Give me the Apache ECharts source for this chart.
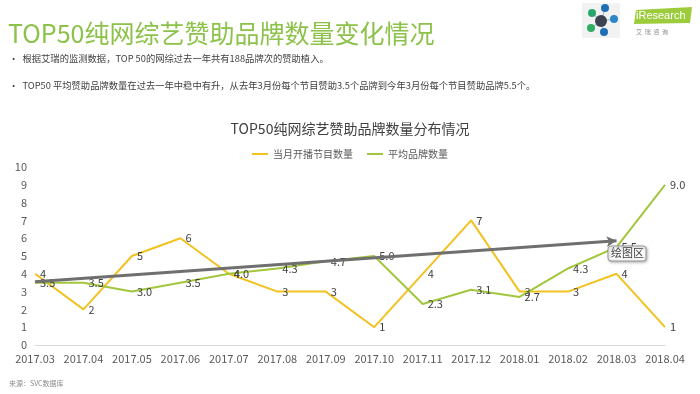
<!DOCTYPE html>
<html><head><meta charset="utf-8">
<script src="https://cdn.jsdelivr.net/npm/echarts@6/dist/echarts.min.js"></script>
<style>html,body{margin:0;padding:0;background:#fff;}#c{width:700px;height:394px;}</style>
</head><body><div id="c"></div>
<script>
const categories = ['2017.03','2017.04','2017.05','2017.06','2017.07','2017.08','2017.09','2017.10','2017.11','2017.12','2018.01','2018.02','2018.03','2018.04'];
const showsPerMonth = [4,2,5,6,4,3,3,1,4,7,3,3,4,1];
const avgBrands = [3.5,3.5,3.0,3.5,4.0,4.3,4.7,5.0,2.3,3.1,2.7,4.3,5.5,9.0];
const yTicks = [0,1,2,3,4,5,6,7,8,9,10];
const trendStart = [0, 3.55];
const trendEnd = [12, 5.85];
const seriesNames = ['当月开播节目数量','平均品牌数量'];

const chart = echarts.init(document.getElementById('c'));
const font = '"Noto Sans CJK SC","Microsoft YaHei",sans-serif';
chart.setOption({
  backgroundColor:'#fff',
  animation:false,
  textStyle:{fontFamily:font},
  title:{
    text:'TOP50纯网综艺赞助品牌数量分布情况',
    left:'center', top:117,
    textStyle:{fontSize:14, fontWeight:'normal', color:'#404040', fontFamily:font}
  },
  legend:{
    top:144, left:'center',
    itemWidth:16, itemHeight:2, itemGap:14,
    icon:'rect',
    textStyle:{fontSize:10, color:'#595959'},
    data:seriesNames
  },
  grid:{left:35, right:35, top:167, bottom:49},
  xAxis:{
    type:'category', boundaryGap:false, data:categories,
    axisLine:{lineStyle:{color:'#d9d9d9'}},
    axisTick:{show:false},
    axisLabel:{color:'#595959', fontSize:11, margin:8, interval:0}
  },
  yAxis:{
    type:'value', min:0, max:10, interval:1,
    axisLine:{show:false}, axisTick:{show:false}, splitLine:{show:false},
    axisLabel:{color:'#595959', fontSize:11, margin:8,
      formatter:v=> yTicks.includes(v)? String(v):''}
  },
  series:[
    {name:seriesNames[0], type:'line', data:showsPerMonth,
     symbol:'circle', symbolSize:0.01, showSymbol:true,
     lineStyle:{color:'#f2c221', width:2}, itemStyle:{color:'#f2c221'},
     label:{show:true, position:'right', color:'#404040', fontSize:11, distance:5}},
    {name:seriesNames[1], type:'line', data:avgBrands,
     symbol:'circle', symbolSize:0.01, showSymbol:true,
     lineStyle:{color:'#a2c63d', width:2}, itemStyle:{color:'#a2c63d'},
     label:{show:true, position:'right', color:'#404040', fontSize:11, distance:5,
       formatter:p=>Number(p.value).toFixed(1)},
     markLine:{silent:true, symbol:['none','arrow'], symbolSize:[8,10],
       label:{show:false},
       lineStyle:{color:'#6f6f6f', width:3, type:'solid'},
       data:[[{coord:trendStart},{coord:trendEnd}]]}
    }
  ],
  graphic:[
    {type:'text', left:8, top:21, style:{text:'TOP50纯网综艺赞助品牌数量变化情况', fill:'#8cc24a', fontSize:25, fontFamily:font}},
    {type:'text', left:9, top:54, style:{text:'•  根据艾瑞的监测数据，TOP 50的网综过去一年共有188品牌次的赞助植入。', fill:'#404040', fontSize:9.3, fontFamily:font}},
    {type:'text', left:9, top:81, style:{text:'•  TOP50 平均赞助品牌数量在过去一年中稳中有升，从去年3月份每个节目赞助3.5个品牌到今年3月份每个节目赞助品牌5.5个。', fill:'#404040', fontSize:9.3, fontFamily:font}},
    {type:'text', left:9, top:380, style:{text:'来源：SVC数据库', fill:'#8c8c8c', fontSize:7, fontFamily:font}},
    {type:'rect', shape:{x:608, y:246, width:38, height:15, r:3}, z:100,
     style:{fill:'#fafafa', stroke:'#9a9a9a', lineWidth:1, shadowBlur:3, shadowColor:'rgba(0,0,0,0.3)', shadowOffsetX:1, shadowOffsetY:1}},
    {type:'text', x:611, y:247, z:101, style:{text:'绘图区', fill:'#404040', fontSize:11, fontFamily:font}},
    {type:'rect', shape:{x:582, y:3, width:38, height:35}, style:{fill:'#f2f2f2'}},
    {type:'line', shape:{x1:592,y1:13,x2:601,y2:21}, style:{stroke:'#9fb3c3',lineWidth:1}},
    {type:'line', shape:{x1:605,y1:9,x2:601,y2:21}, style:{stroke:'#9fb3c3',lineWidth:1}},
    {type:'line', shape:{x1:614,y1:19,x2:601,y2:21}, style:{stroke:'#9fb3c3',lineWidth:1}},
    {type:'line', shape:{x1:591,y1:28,x2:601,y2:21}, style:{stroke:'#9fb3c3',lineWidth:1}},
    {type:'line', shape:{x1:604,y1:32,x2:601,y2:21}, style:{stroke:'#9fb3c3',lineWidth:1}},
    {type:'circle', shape:{cx:601, cy:21, r:6}, style:{fill:'#3b4250'}},
    {type:'circle', shape:{cx:592, cy:13, r:4}, style:{fill:'#27a96b'}},
    {type:'circle', shape:{cx:605, cy:8, r:4}, style:{fill:'#1f6fb5'}},
    {type:'circle', shape:{cx:614, cy:19, r:4}, style:{fill:'#2c86c7'}},
    {type:'circle', shape:{cx:591, cy:28, r:4}, style:{fill:'#2fae62'}},
    {type:'circle', shape:{cx:604, cy:32, r:4}, style:{fill:'#1f6fb5'}},
    {type:'polygon', shape:{points:[[636,10],[692,7],[690,23],[634,24]]}, style:{fill:'#9ccc3c'}},
    {type:'text', x:636, y:10, style:{text:'iResearch', fill:'#fff', fontSize:11, fontFamily:'"Liberation Sans",Arial,sans-serif'}},
    {type:'text', x:636, y:29, style:{text:'艾  瑞  咨  询', fill:'#8c8c8c', fontSize:6, fontFamily:font}}
  ]
});
</script></body></html>
